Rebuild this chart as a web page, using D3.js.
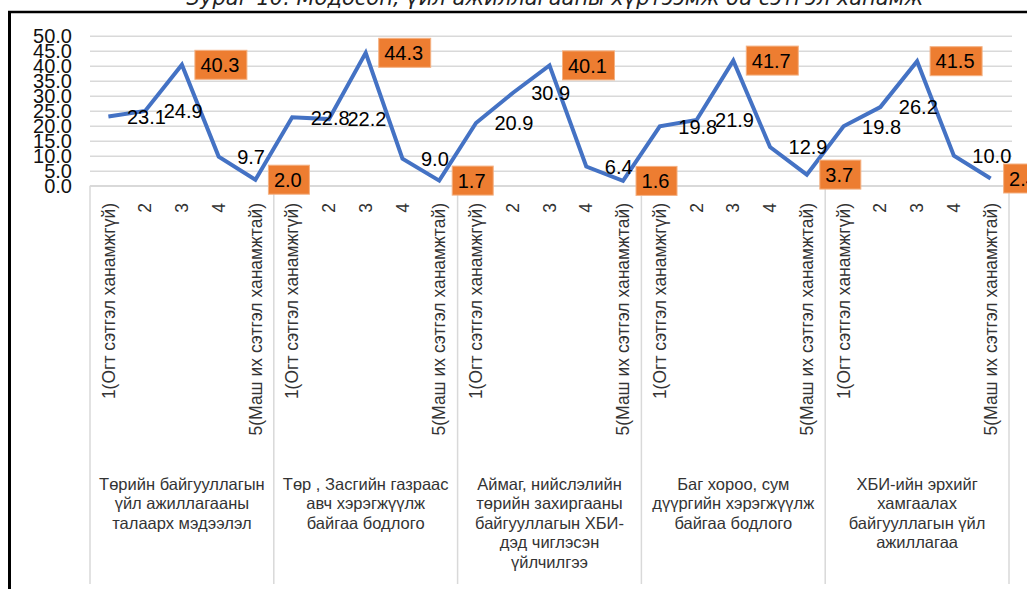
<!DOCTYPE html>
<html>
<head>
<meta charset="utf-8">
<script src="https://cdn.jsdelivr.net/npm/d3@7"></script>
<style>
  body { margin: 0; background: #ffffff; }
  text { font-family: "Liberation Sans", Arial, sans-serif; }
</style>
</head>
<body>
<div id="chart-container"></div>
<script>
// chart data
var title_text = "Зураг 10. Модосон, үйл ажиллагааны хүртээмж ба сэтгэл ханамж";

var group_labels = [
  ["Төрийн байгууллагын", "үйл ажиллагааны", "талаарх мэдээлэл"],
  ["Төр , Засгийн газраас", "авч хэрэгжүүлж", "байгаа бодлого"],
  ["Аймаг, нийслэлийн", "төрийн захиргааны", "байгууллагын ХБИ-", "дэд чиглэсэн", "үйлчилгээ"],
  ["Баг хороо, сум", "дүүргийн хэрэгжүүлж", "байгаа бодлого"],
  ["ХБИ-ийн эрхийг", "хамгаалах", "байгууллагын үйл", "ажиллагаа"]
];

var level_labels = ["1(Огт сэтгэл ханамжгүй)", "2", "3", "4", "5(Маш их сэтгэл ханамжтай)"];

var group_values = [
  [23.1, 24.9, 40.3, 9.7, 2.0],
  [22.8, 22.2, 44.3, 9.0, 1.7],
  [20.9, 30.9, 40.1, 6.4, 1.6],
  [19.8, 21.9, 41.7, 12.9, 3.7],
  [19.8, 26.2, 41.5, 10.0, 2.4]
];

var y_ticks = [0, 5, 10, 15, 20, 25, 30, 35, 40, 45, 50];

// levels whose labels sit in an orange box
var boxed_levels = [2, 4];

draw_chart();

function draw_chart() {
  var width = 1027;
  var height = 589;
  var plot = { left: 90, right: 1009, top: 35.7, bottom: 185.7 };

  // flatten into one row per point
  var points = [];
  group_values.forEach(function (vals, g) {
    vals.forEach(function (v, i) {
      points.push({ key: g + "-" + i, group: g, level: i, value: v });
    });
  });

  var x = d3
    .scaleBand()
    .domain(points.map(function (d) { return d.key; }))
    .range([plot.left, plot.right]);

  var y = d3.scaleLinear().domain([0, 50]).range([plot.bottom, plot.top]);

  var svg = d3
    .select("#chart-container")
    .append("svg")
    .attr("width", width)
    .attr("height", height)
    .style("display", "block");

  svg.append("rect").attr("width", width).attr("height", height).attr("fill", "#ffffff");

  // title, mostly cut off at the top
  svg
    .append("text")
    .attr("x", 555)
    .attr("y", 5)
    .attr("text-anchor", "middle")
    .style("font-family", "'DejaVu Sans', sans-serif")
    .style("font-style", "italic")
    .style("font-size", "21px")
    .attr("fill", "#222")
    .text(title_text);

  // frame
  svg.append("line").attr("x1", 8).attr("x2", width).attr("y1", 12).attr("y2", 12)
    .attr("stroke", "#000").attr("stroke-width", 2.5);
  svg.append("line").attr("x1", 9.5).attr("x2", 9.5).attr("y1", 11).attr("y2", height)
    .attr("stroke", "#000").attr("stroke-width", 3);

  // gridlines
  svg
    .append("g")
    .attr("transform", "translate(" + plot.left + ",0)")
    .call(d3.axisLeft(y).tickValues(y_ticks).tickSize(-(plot.right + 3 - plot.left)).tickFormat(""))
    .call(function (g) { g.select(".domain").remove(); })
    .selectAll("line")
    .attr("stroke", "#d9d9d9")
    .attr("stroke-width", 1.5);

  // y tick labels
  svg
    .append("g")
    .attr("transform", "translate(72,0)")
    .call(d3.axisLeft(y).tickValues(y_ticks).tickSize(0).tickPadding(0).tickFormat(d3.format(".1f")))
    .call(function (g) { g.select(".domain").remove(); })
    .selectAll("text")
    .style("font-size", "20px")
    .attr("fill", "#111");

  // category area: bottom line and group separators
  svg.append("line").attr("x1", plot.left).attr("x2", plot.right).attr("y1", plot.bottom).attr("y2", plot.bottom)
    .attr("stroke", "#d9d9d9").attr("stroke-width", 1.5);

  var seps = d3.range(group_values.length + 1).map(function (g) {
    return g < group_values.length ? x(g + "-0") : x(points[points.length - 1].key) + x.bandwidth();
  });
  svg
    .append("g")
    .selectAll("line")
    .data(seps)
    .join("line")
    .attr("x1", function (d) { return d; })
    .attr("x2", function (d) { return d; })
    .attr("y1", plot.bottom)
    .attr("y2", 584)
    .attr("stroke", "#d9d9d9")
    .attr("stroke-width", 1.5);

  // rotated level labels
  svg
    .append("g")
    .selectAll("text")
    .data(points)
    .join("text")
    .attr("transform", function (d) {
      return "translate(" + (x(d.key) + x.bandwidth() / 2) + ",203) rotate(-90)";
    })
    .attr("dy", "0.35em")
    .attr("text-anchor", "end")
    .style("font-size", "17.5px")
    .attr("fill", "#333")
    .text(function (d) { return level_labels[d.level]; });

  // group labels
  var glab = svg
    .append("g")
    .selectAll("text")
    .data(group_labels)
    .join("text")
    .attr("x", function (d, g) { return (seps[g] + seps[g + 1]) / 2; })
    .attr("y", 484)
    .attr("text-anchor", "middle")
    .style("font-size", "16.5px")
    .attr("fill", "#333");
  glab
    .selectAll("tspan")
    .data(function (d) { return d; })
    .join("tspan")
    .attr("x", function () { return d3.select(this.parentNode).attr("x"); })
    .attr("y", function (d, i) { return 484 + i * 19.5; })
    .attr("dy", "0.35em")
    .text(function (d) { return d; });

  // the line
  var valueline = d3
    .line()
    .x(function (d) { return x(d.key) + x.bandwidth() / 2; })
    .y(function (d) { return y(d.value); });

  svg
    .append("path")
    .datum(points)
    .attr("d", valueline)
    .attr("fill", "none")
    .attr("stroke", "#4472C4")
    .attr("stroke-width", 4)
    .attr("stroke-linejoin", "miter");

  // data labels
  var labels = svg
    .append("g")
    .selectAll("g")
    .data(points)
    .join("g")
    .attr("transform", function (d) {
      return "translate(" + (x(d.key) + x.bandwidth() / 2) + "," + y(d.value) + ")";
    });

  labels
    .filter(function (d) { return boxed_levels.indexOf(d.level) >= 0; })
    .append("rect")
    .attr("x", 13)
    .attr("y", -14.5)
    .attr("height", 29)
    .attr("width", function (d) { return d.value >= 10 ? 52 : 41; })
    .attr("fill", "#ED7D31")
    .attr("stroke", "#f4b183")
    .attr("stroke-width", 1);

  labels
    .append("text")
    .attr("x", 18.5)
    .attr("dy", "0.36em")
    .style("font-size", "20px")
    .attr("fill", "#000")
    .text(function (d) { return d3.format(".1f")(d.value); });
}
</script>
</body>
</html>
